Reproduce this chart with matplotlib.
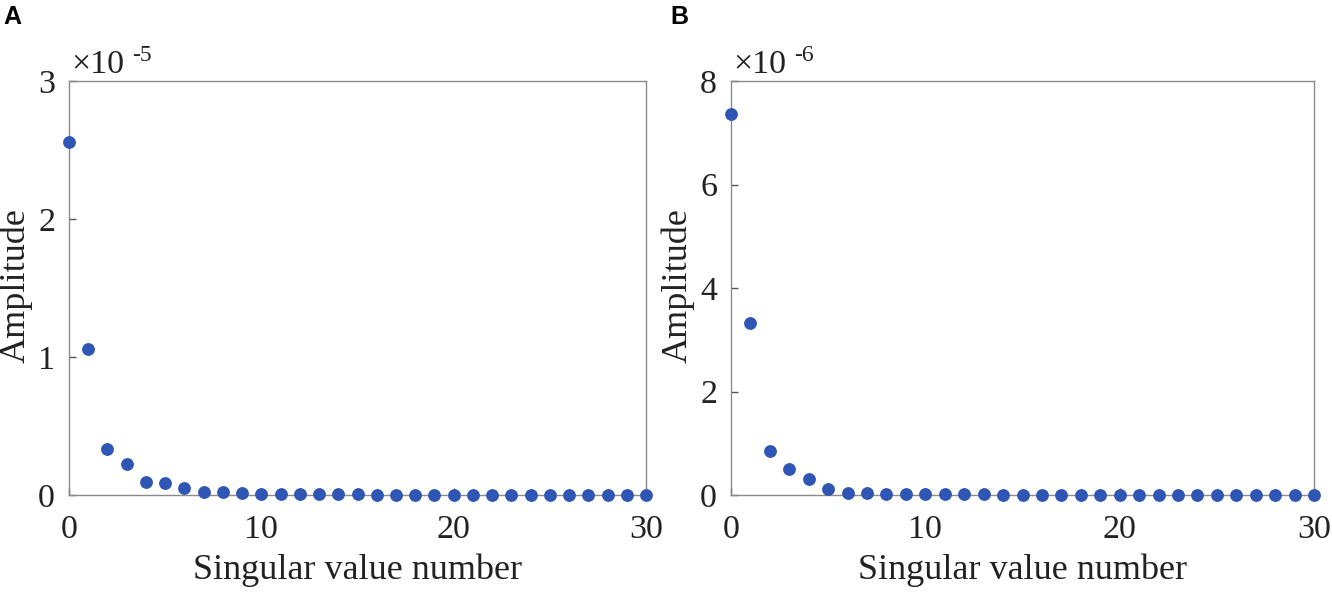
import matplotlib
matplotlib.use("Agg")
import matplotlib.pyplot as plt
import numpy as np

# Data (amplitudes in units of the axis multiplier)
sv_index = list(range(31))
amp_a = [2.56, 1.06, 0.33, 0.225, 0.097, 0.089, 0.051, 0.024, 0.020, 0.015,
         0.008, 0.007, 0.006, 0.005, 0.004, 0.004, 0.003, 0.003, 0.003, 0.002,
         0.002, 0.002, 0.002, 0.001, 0.001, 0.001, 0.001, 0.001, 0.001, 0.001, 0.0005]
amp_b = [7.36, 3.33, 0.85, 0.51, 0.30, 0.12, 0.045, 0.030, 0.028, 0.022,
         0.018, 0.015, 0.012, 0.010, 0.008, 0.007, 0.006, 0.005, 0.005, 0.004,
         0.004, 0.003, 0.003, 0.003, 0.002, 0.002, 0.002, 0.002, 0.001, 0.001, 0.001]
xticks = [0, 10, 20, 30]
yticks_a = [0, 1, 2, 3]
yticks_b = [0, 2, 4, 6, 8]
mult_a = "-5"
mult_b = "-6"
xlabel = "Singular value number"
ylabel = "Amplitude"

plt.rcParams['font.family'] = ['Liberation Serif', 'DejaVu Serif']

W, H = 1332, 592
fig = plt.figure(figsize=(W / 100, H / 100), dpi=100)

dot_color = '#2F56B4'
spine_color = '#8a8a8a'
text_color = '#222222'

def px(x, y):
    return x / W, 1 - y / H

def make_panel(left, width, y, yticks, ylim, mult, letter, letter_x, ylabel_x):
    top, bottom = 81, 495
    ax = fig.add_axes([left / W, (H - bottom) / H, width / W, (bottom - top) / H])
    ax.plot(sv_index, y, 'o', color=dot_color, markersize=8.2, clip_on=False, zorder=3)
    ax.set_xlim(0, 30)
    ax.set_ylim(*ylim)
    ax.set_xticks(xticks)
    ax.set_yticks(yticks)
    for s in ax.spines.values():
        s.set_color(spine_color)
        s.set_linewidth(1.0)
    ax.tick_params(direction='in', length=5, width=1, color='#555555',
                   labelsize=24.5, labelcolor=text_color, pad=10)
    ax.tick_params(axis='x', pad=14)
    # axis labels
    fig.text(*px(left + width / 2, 570), xlabel, fontsize=26, color=text_color,
             ha='center', va='center')
    fig.text(*px(ylabel_x, (top + bottom) / 2 - 2), ylabel, fontsize=26, color=text_color,
             ha='center', va='center', rotation=90)
    # multiplier
    fig.text(*px(left + 2, 73), '\u00d710', fontsize=24.5, color=text_color,
             ha='left', va='baseline')
    fig.text(*px(left + 63, 61), mult, fontsize=17, color=text_color,
             ha='left', va='baseline')
    # panel letter
    fig.text(*px(letter_x, 17), letter, fontsize=18, fontweight='bold',
             family='Liberation Sans', ha='left', va='center', color='black')
    return ax

make_panel(69, 577, amp_a, yticks_a, (0, 3), mult_a, 'A', 3, 16)
make_panel(731, 583, amp_b, yticks_b, (0, 8), mult_b, 'B', 670, 678)

fig.savefig('out.png', dpi=100)
